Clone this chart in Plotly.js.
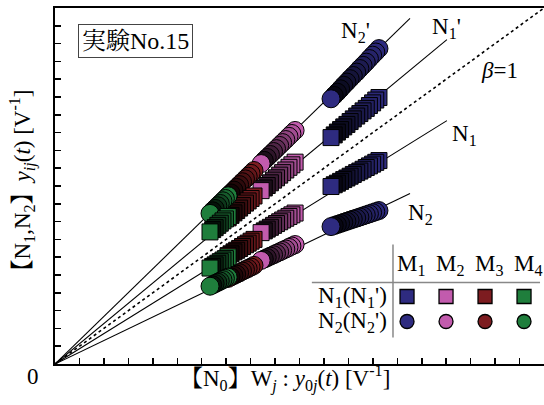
<!DOCTYPE html>
<html>
<head>
<meta charset="utf-8">
<script src="https://cdn.plot.ly/plotly-3.0.1.min.js"></script>
<style>html,body{margin:0;padding:0;background:#fff;}#chart{width:544px;height:405px;}</style>
</head>
<body>
<div id="chart"></div>
<script>
// ---- data ----
const groups = ["M1", "M2", "M3", "M4"];
const groupColors = ["#2e2b80", "#c25bad", "#7d1c20", "#1f7e3c"];

// x values (W_j : y_0j(t)) for each group
const xM1 = [11.29, 11.42, 11.55, 11.68, 11.81, 11.94, 12.07, 12.20, 12.34, 12.47, 12.60, 12.73, 12.86, 12.99, 13.12, 13.25];
const xM2 = [8.43, 8.56, 8.68, 8.81, 8.94, 9.06, 9.19, 9.31, 9.44, 9.57, 9.69, 9.82];
const xM3 = [7.08, 7.20, 7.32, 7.43, 7.55, 7.67, 7.79, 7.90, 8.02, 8.14];
const xM4 = [6.34, 6.45, 6.55, 6.66, 6.76, 6.87, 6.97, 7.08];

// N2' (circles, upper)
const n2pM1 = [14.90, 15.09, 15.27, 15.46, 15.66, 15.84, 16.03, 16.21, 16.40, 16.60, 16.78, 16.96, 17.16, 17.35, 17.53, 17.72];
const n2pM2 = [11.26, 11.44, 11.60, 11.77, 11.94, 12.10, 12.28, 12.44, 12.61, 12.79, 12.95, 13.12];
const n2pM3 = [9.45, 9.61, 9.77, 9.92, 10.08, 10.24, 10.40, 10.55, 10.71, 10.87];
const n2pM4 = [8.46, 8.61, 8.74, 8.89, 9.02, 9.17, 9.30, 9.45];
// N1' (squares, upper)
const n1pM1 = [12.72, 12.87, 13.03, 13.17, 13.32, 13.46, 13.62, 13.77, 13.93, 14.07, 14.22, 14.36, 14.52, 14.67, 14.83, 14.97];
const n1pM2 = [9.74, 9.89, 10.03, 10.18, 10.33, 10.46, 10.61, 10.75, 10.90, 11.05, 11.19, 11.34];
const n1pM3 = [8.21, 8.35, 8.49, 8.62, 8.76, 8.90, 9.04, 9.16, 9.30, 9.44];
const n1pM4 = [7.42, 7.55, 7.66, 7.79, 7.91, 8.04, 8.15, 8.28];
// N1 (squares, lower)
const n1M1 = [9.97, 10.07, 10.16, 10.26, 10.36, 10.45, 10.55, 10.65, 10.75, 10.84, 10.94, 11.04, 11.13, 11.23, 11.33, 11.43];
const n1M2 = [7.38, 7.48, 7.58, 7.68, 7.79, 7.89, 7.99, 8.09, 8.19, 8.29, 8.38, 8.48];
const n1M3 = [6.09, 6.19, 6.30, 6.39, 6.49, 6.60, 6.70, 6.79, 6.90, 7.00];
const n1M4 = [5.39, 5.48, 5.57, 5.66, 5.75, 5.84, 5.92, 6.02];
// N2 (circles, lower)
const n2M1 = [7.72, 7.78, 7.84, 7.90, 7.96, 8.02, 8.08, 8.14, 8.20, 8.26, 8.32, 8.38, 8.44, 8.50, 8.56, 8.62];
const n2M2 = [5.82, 5.90, 5.98, 6.06, 6.14, 6.22, 6.30, 6.38, 6.46, 6.55, 6.63, 6.71];
const n2M3 = [4.81, 4.90, 4.98, 5.05, 5.13, 5.22, 5.30, 5.37, 5.45, 5.54];
const n2M4 = [4.37, 4.45, 4.52, 4.59, 4.66, 4.74, 4.81, 4.88];

// fitted lines through origin
const lineNames = ["N<sub>2</sub>'", "N<sub>1</sub>'", "N<sub>1</sub>", "N<sub>2</sub>"];
const lineSlopes = [1.337, 1.137, 0.853, 0.660];
const lineEndX = [14.52, 16.03, 16.03, 14.52];
const lineLabelX = [12.31, 16.03, 16.73, 14.93];
const lineLabelY = [18.68, 18.85, 12.89, 8.44];
const betaEnd = 20;

// legend table
const tableCols = [1, 2, 3, 4];
const tableRowN1 = 2, tableRowN2 = 1;
const rowLabels = ["N<sub>1</sub>(N<sub>1</sub>')", "N<sub>2</sub>(N<sub>2</sub>')"];

// ---- build ----
function mix(hex, t) { // t = amount of black
  const r = parseInt(hex.slice(1,3),16), g = parseInt(hex.slice(3,5),16), b = parseInt(hex.slice(5,7),16);
  const f = v => Math.round(v*(1-t));
  return `rgb(${f(r)},${f(g)},${f(b)})`;
}
function cluster(xs, ys, color, symbol, size) {
  const n = xs.length;
  const X = [], Y = [], C = [];
  for (let i = n-1; i >= 0; i--) {
    X.push(xs[i]); Y.push(ys[i]);
    let t = 0;
    if (i > 0) t = 0.85 * (1 - (i-1)/(n-2));
    C.push(i === 0 ? color : mix(color, t));
  }
  return {x: X, y: Y, type: 'scatter', mode: 'markers', showlegend: false, hoverinfo: 'skip',
    marker: {symbol: symbol, size: size, color: C, line: {color: '#000', width: 1}}};
}

const traces = [];
for (let k = 0; k < lineSlopes.length; k++) {
  traces.push({x: [0, lineEndX[k]], y: [0, lineSlopes[k]*lineEndX[k]], type: 'scatter', mode: 'lines',
    line: {color: '#000', width: 1.1}, showlegend: false, hoverinfo: 'skip'});
}
traces.push({x: [0, betaEnd], y: [0, betaEnd], type: 'scatter', mode: 'lines',
  line: {color: '#000', width: 1.6, dash: 'dot'}, showlegend: false, hoverinfo: 'skip'});

const xs = [xM1, xM2, xM3, xM4];
const sets = [[n2pM1, n1pM1, n1M1, n2M1], [n2pM2, n1pM2, n1M2, n2M2], [n2pM3, n1pM3, n1M3, n2M3], [n2pM4, n1pM4, n1M4, n2M4]];
const syms = ['circle', 'square', 'square', 'circle'];
const sizes = [18, 16, 16, 18];
for (let g = 0; g < 4; g++) {
  for (let s = 0; s < 4; s++) {
    traces.push(cluster(xs[g], sets[g][s], groupColors[g], syms[s], sizes[s]));
  }
}
traces.push({x: tableCols, y: tableCols.map(() => tableRowN1), xaxis: 'x2', yaxis: 'y2', type: 'scatter', mode: 'markers',
  marker: {symbol: 'square', size: 14, color: groupColors, line: {color: '#000', width: 1.3}}, showlegend: false, hoverinfo: 'skip'});
traces.push({x: tableCols, y: tableCols.map(() => tableRowN2), xaxis: 'x2', yaxis: 'y2', type: 'scatter', mode: 'markers',
  marker: {symbol: 'circle', size: 14, color: groupColors, line: {color: '#000', width: 1.3}}, showlegend: false, hoverinfo: 'skip'});

const serif = "'Liberation Serif', 'Noto Serif CJK JP', 'Noto Sans CJK JP', serif";
const annFont = {family: serif, size: 23, color: '#000'};
const annotations = [];
for (let k = 0; k < lineNames.length; k++) {
  annotations.push({x: lineLabelX[k], y: lineLabelY[k], xref: 'x', yref: 'y', xanchor: 'center', yanchor: 'middle',
    text: lineNames[k], showarrow: false, font: annFont});
}
annotations.push({x: 18.2, y: 16.49, xref: 'x', yref: 'y', xanchor: 'center', yanchor: 'middle', text: '<i>β</i>=1', showarrow: false, font: annFont});
annotations.push({x: 0.1656, y: 0.9087, xref: 'paper', yref: 'paper', xanchor: 'center', yanchor: 'middle', text: '実験No.15', showarrow: false,
  font: {family: serif, size: 24, color: '#000'}, bordercolor: '#444', borderwidth: 1, borderpad: 3, bgcolor: '#fff'});
annotations.push({x: 0, y: 0, xref: 'paper', yref: 'paper', xanchor: 'center', yanchor: 'middle', xshift: -22, yshift: -12,
  text: '0', showarrow: false, font: annFont});
for (let c = 0; c < groups.length; c++) {
  annotations.push({x: tableCols[c], y: 3.28, xref: 'x2', yref: 'y2', xanchor: 'center', yanchor: 'middle', xshift: 4,
    text: 'M<sub>' + groups[c].slice(1) + '</sub>', showarrow: false, font: annFont});
}
annotations.push({x: 0.54, y: tableRowN1, xref: 'x2', yref: 'y2', xanchor: 'right', yanchor: 'middle', text: rowLabels[0], showarrow: false, font: annFont});
annotations.push({x: 0.54, y: tableRowN2, xref: 'x2', yref: 'y2', xanchor: 'right', yanchor: 'middle', text: rowLabels[1], showarrow: false, font: annFont});

const shapes = [
  {type: 'line', xref: 'x2', yref: 'y2', x0: -1.44, x1: 4.41, y0: 2.56, y1: 2.56, line: {color: '#888', width: 1.5}},
  {type: 'line', xref: 'x2', yref: 'y2', x0: 0.64, x1: 0.64, y0: 0.36, y1: 4.08, line: {color: '#888', width: 1.5}}
];

const layout = {
  width: 544, height: 405,
  margin: {l: 55, r: 0, t: 8, b: 41},
  paper_bgcolor: '#fff', plot_bgcolor: '#fff',
  font: {family: serif, color: '#000'},
  xaxis: {range: [0, 20], showgrid: false, zeroline: false, showline: true, linewidth: 2, linecolor: '#000', mirror: true,
    ticks: 'inside', ticklen: 6, tickwidth: 1.5, tickcolor: '#000', dtick: 1, tick0: 0, showticklabels: false,
    title: {text: '【N<sub>0</sub>】W<sub><i>j</i></sub> : <i>y</i><sub>0<i>j</i></sub>(<i>t</i>) [V<sup>-1</sup>]&nbsp;&nbsp;&nbsp;&nbsp;&nbsp;', font: {family: serif, size: 23}, standoff: 5}},
  yaxis: {range: [0, 20], showgrid: false, zeroline: false, showline: true, linewidth: 2, linecolor: '#000', mirror: false,
    ticks: 'inside', ticklen: 6, tickwidth: 1.5, tickcolor: '#000', dtick: 1, tick0: 0, showticklabels: false,
    title: {text: '【N<sub>1</sub>,N<sub>2</sub>】<i>y</i><sub><i>ij</i></sub>(<i>t</i>) [V<sup>-1</sup>]', font: {family: serif, size: 23}, standoff: 16}},
  xaxis2: {overlaying: 'x', anchor: 'y2', range: [-8.026, 4.512], visible: false},
  yaxis2: {overlaying: 'y', anchor: 'x2', range: [-0.7, 13.54], visible: false},
  annotations: annotations,
  shapes: shapes,
  showlegend: false
};
Plotly.newPlot('chart', traces, layout, {displayModeBar: false, staticPlot: true});
</script>
</body>
</html>
